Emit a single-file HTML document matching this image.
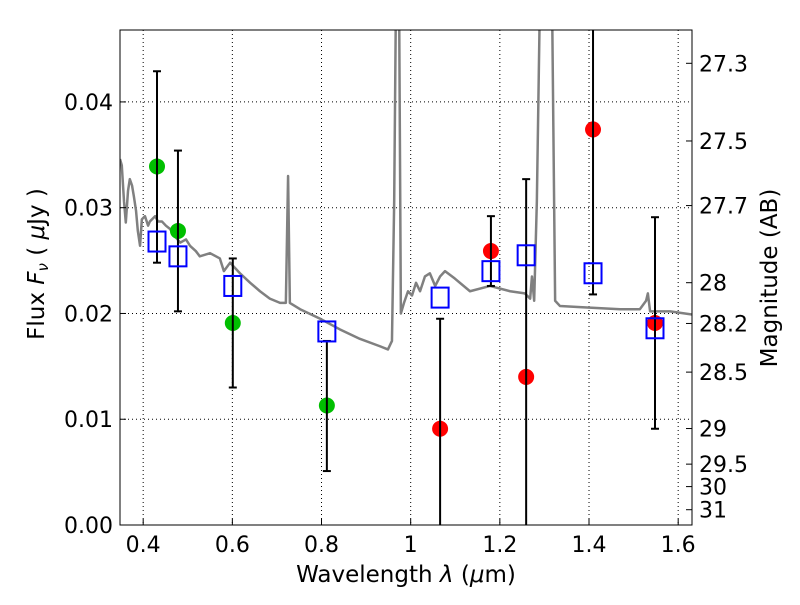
<!DOCTYPE html>
<html><head><meta charset="utf-8"><style>
body{margin:0;background:#fff;}
svg text{font-family:"DejaVu Sans","Liberation Sans",sans-serif;fill:#000;}
</style></head><body>
<svg id="chart" width="800" height="600" xmlns="http://www.w3.org/2000/svg">
<defs><clipPath id="clip"><rect x="120" y="30" width="572" height="495"/></clipPath></defs>
<g id="grid"></g>
<g id="spec" clip-path="url(#clip)"></g>
<g id="marks" clip-path="url(#clip)"></g>
<rect x="120" y="30" width="572" height="495" fill="none" stroke="#000" stroke-width="1"/>
<g id="axes"></g>
<text x="406" y="582" font-size="23" text-anchor="middle">Wavelength  <tspan font-style="italic">λ</tspan> (<tspan font-style="italic">μ</tspan>m)</text>
<text transform="translate(44,264) rotate(-90)" font-size="23" text-anchor="middle">Flux  <tspan font-style="italic">F</tspan><tspan font-style="italic" font-size="15" dy="4">ν</tspan><tspan dy="-4">  (  </tspan><tspan font-style="italic">μ</tspan>Jy )</text>
<text transform="translate(777,278) rotate(-90)" font-size="23" text-anchor="middle">Magnitude (AB)</text>
</svg>
<script>
const xTicks=[0.4,0.6,0.8,1.0,1.2,1.4,1.6];
const xTickLabels=["0.4","0.6","0.8","1","1.2","1.4","1.6"];
const yTicks=[0,0.01,0.02,0.03,0.04];
const yTickLabels=["0.00","0.01","0.02","0.03","0.04"];
const magTicks=[27.3,27.5,27.7,28,28.2,28.5,29,29.5,30,31];
const magTickLabels=["27.3","27.5","27.7","28","28.2","28.5","29","29.5","30","31"];
const specWl=[.348,.352,.357,.361,.366,.370,.375,.379,.384,.388,.393,.397,.404,.411,.415,.427,.433,.442,.451,.460,.471,.483,.496,.505,.518,.527,.550,.572,.581,.595,.617,.640,.662,.684,.707,.720,.725,.729,.752,.797,.841,.886,.931,.949,.958,.963,.967,.974,.978,.985,.994,1.003,1.012,1.021,1.032,1.043,1.055,1.066,1.077,1.099,1.133,1.178,1.223,1.256,1.268,1.272,1.277,1.283,1.290,1.317,1.324,1.335,1.380,1.470,1.514,1.528,1.532,1.537,1.582,1.631];
const specFlux=[.0346,.0340,.0306,.0286,.0316,.0327,.0321,.0311,.0297,.0278,.0264,.0289,.0292,.0283,.0287,.0292,.0287,.0287,.0283,.0280,.0273,.0267,.0270,.0264,.0259,.0254,.0257,.0252,.0240,.0248,.0238,.0229,.0221,.0214,.0210,.0210,.0330,.0210,.0204,.0195,.0185,.0176,.0169,.0166,.0174,.0306,.0500,.0500,.0200,.0210,.0221,.0217,.0229,.0221,.0235,.0238,.0226,.0235,.0240,.0233,.0221,.0226,.0221,.0219,.0214,.0235,.0212,.0306,.0500,.0500,.0212,.0207,.0206,.0204,.0204,.0212,.0219,.0202,.0202,.0199];
const greenWl=[0.431,0.478,0.601,0.812];
const greenFlux=[0.0339,0.0278,0.0191,0.0113];
const redWl=[1.066,1.180,1.259,1.409,1.548];
const redFlux=[0.0091,0.0259,0.0140,0.0374,0.0191];
const modelWl=[0.431,0.478,0.601,0.812,1.066,1.180,1.259,1.409,1.548];
const modelFlux=[0.0268,0.0254,0.0226,0.0183,0.0215,0.0240,0.0255,0.0238,0.0186];
const errWl=[0.431,0.478,0.601,0.812,1.066,1.180,1.259,1.409,1.548];
const errLow=[0.0248,0.0202,0.0130,0.0051,-0.005,0.0226,-0.005,0.0218,0.0091];
const errHigh=[0.0429,0.0354,0.0252,0.0174,0.0195,0.0292,0.0327,0.060,0.0291];

const X0=120,X1=692,Y0=525,Y1=30,XMIN=0.348,XMAX=1.631,YMIN=0,YMAX=0.0468;
const sx=v=>X0+(v-XMIN)/(XMAX-XMIN)*(X1-X0);
const sy=v=>Y0-(v-YMIN)/(YMAX-YMIN)*(Y0-Y1);
const magToFlux=m=>Math.pow(10,(23.9-m)/2.5);
const NS="http://www.w3.org/2000/svg";
function mk(tag,attrs,parent){const e=document.createElementNS(NS,tag);for(const k in attrs)e.setAttribute(k,attrs[k]);parent.appendChild(e);return e;}
const grid=document.getElementById('grid'),axes=document.getElementById('axes'),spec=document.getElementById('spec'),marks=document.getElementById('marks');

xTicks.forEach((t,i)=>{const x=sx(t);
 const g=mk('line',{x1:x,x2:x,y1:Y1,y2:Y0,stroke:'#000','stroke-dasharray':'1,3','stroke-width':1},grid);
 
 
 const tk=mk('line',{x1:x,x2:x,y1:Y0,y2:Y0-6,stroke:'#000'},axes);
 
 
 const tx=mk('text',{x:x,y:Y0+27,'font-size':22,'text-anchor':'middle'},axes);tx.textContent=xTickLabels[i];
 
 
});
yTicks.forEach((t,i)=>{const y=sy(t);
 const g=mk('line',{x1:X0,x2:X1,y1:y,y2:y,stroke:'#000','stroke-dasharray':'1,3','stroke-width':1},grid);
 
 
 const tk=mk('line',{x1:X0,x2:X0+6,y1:y,y2:y,stroke:'#000'},axes);
 
 
 const tx=mk('text',{x:X0-7,y:y+8,'font-size':22,'text-anchor':'end'},axes);tx.textContent=yTickLabels[i];
 
 
});
magTicks.forEach((m,i)=>{const y=sy(magToFlux(m));
 const tk=mk('line',{x1:X1,x2:X1-6,y1:y,y2:y,stroke:'#000'},axes);
 
 
 const tx=mk('text',{x:X1+7,y:y+8,'font-size':22},axes);tx.textContent=magTickLabels[i];
 
 
});
const pl=mk('polyline',{points:specWl.map((w,i)=>sx(w)+','+sy(specFlux[i])).join(' '),fill:'none',stroke:'#808080','stroke-width':2.5,'stroke-linejoin':'round'},spec);



greenWl.forEach((w,i)=>{const c=mk('circle',{cx:sx(w),cy:sy(greenFlux[i]),r:8,fill:'#00bf00'},marks);
 
 });
redWl.forEach((w,i)=>{const c=mk('circle',{cx:sx(w),cy:sy(redFlux[i]),r:8,fill:'#ff0000'},marks);
 
 });
errWl.forEach((w,i)=>{const x=sx(w),a=sy(errLow[i]),b=sy(errHigh[i]);
 const l=mk('line',{x1:x,x2:x,y1:a,y2:b,stroke:'#000','stroke-width':2},marks);
 
 
 [a,b].forEach(y=>{const c=mk('line',{x1:x-4,x2:x+4,y1:y,y2:y,stroke:'#000','stroke-width':2},marks);
  
  });
});
modelWl.forEach((w,i)=>{const r=mk('rect',{x:sx(w)-8.5,y:sy(modelFlux[i])-10,width:17,height:20,fill:'none',stroke:'#0000ff','stroke-width':2},marks);
 
 });
</script>
</body></html>
